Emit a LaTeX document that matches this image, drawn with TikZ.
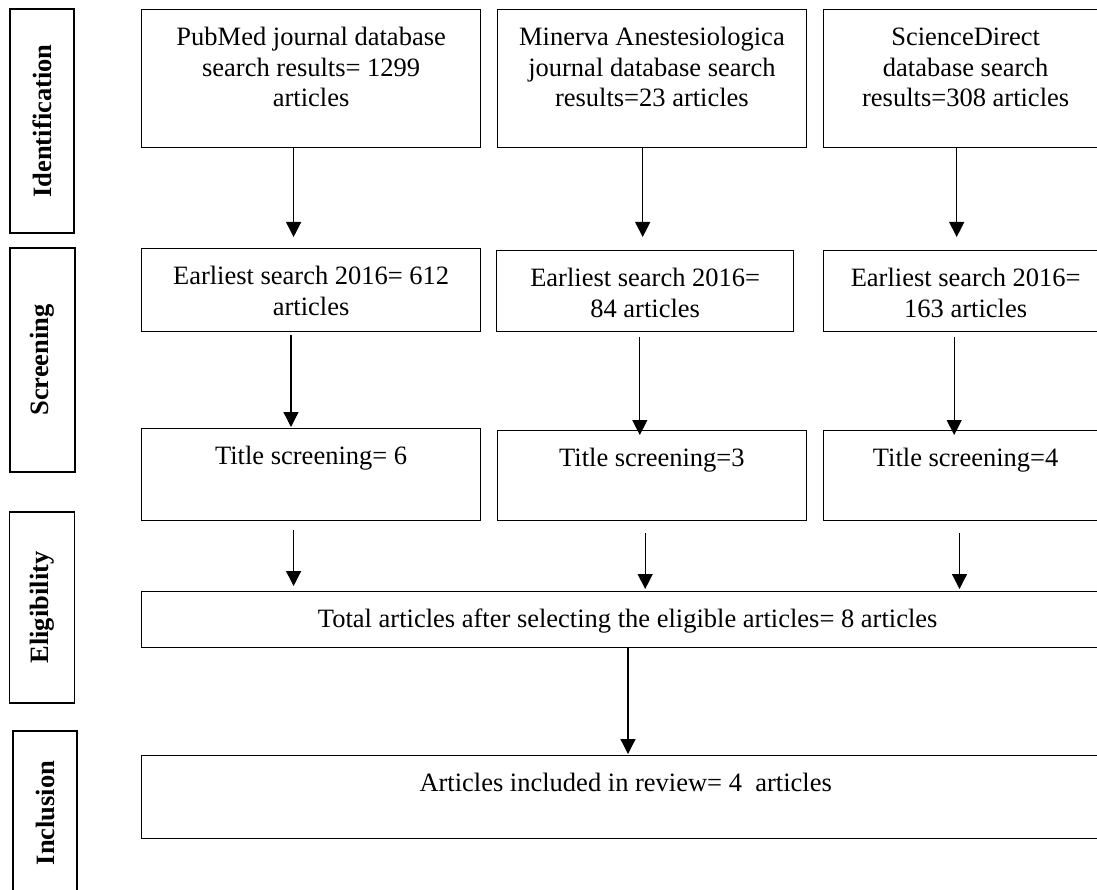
\documentclass[tikz,border=0pt]{standalone}
\usepackage{fontspec}
\setmainfont{Liberation Serif}
\usetikzlibrary{arrows.meta}

% text box: width, height, lines (top aligned)
\newcommand{\toptxt}[3]{\parbox[c][#2][t]{#1}{\centering\rule{0pt}{36pt}#3}}

\tikzset{
  box/.style={draw, line width=1.3pt, inner sep=0pt, anchor=north west,
    font=\fontsize{26.5}{30.5}\selectfont},
  phase/.style={draw, line width=1.5pt, inner sep=0pt, rotate=90,
    font=\fontsize{26.5}{30}\selectfont\bfseries},
  arr/.style={line width=1.3pt, -{Triangle[width=15pt,length=15pt]}},
}

\begin{document}
\begin{tikzpicture}[x=1pt, y=-1pt]
  \useasboundingbox (0,0) rectangle (1097,890);

  % phases
  \node[phase, minimum width=224, minimum height=64] (idlab) at (41.8,121) {Identification};
  \node[phase, minimum width=224, minimum height=65] (scrlab) at (42.3,360) {Screening};
  \node[phase, minimum width=191, minimum height=65] (elilab) at (42,607.5) {Eligibility};
  \node[phase, minimum width=164, minimum height=64] (inclab) at (45,813) {Inclusion};

  % search results
  \node[box] (pubmed) at (141,9) {\toptxt{339pt}{138pt}{PubMed journal database\\search results= 1299\\articles}};
  \node[box] (minerva) at (497,9) {\toptxt{308.5pt}{138pt}{Minerva Anestesiologica\\journal database search\\results=23 articles}};
  \node[box] (scidir) at (823,9) {\toptxt{284pt}{138pt}{ScienceDirect\\database search\\results=308 articles}};

  % earliest search
  \node[box] (early1) at (141,248) {\toptxt{339pt}{83pt}{Earliest search 2016= 612\\articles}};
  \node[box] (early2) at (496,250) {\toptxt{297pt}{81pt}{Earliest search 2016=\\84 articles}};
  \node[box] (early3) at (823,250) {\toptxt{284pt}{81pt}{Earliest search 2016=\\163 articles}};

  % title screening
  \node[box] (title1) at (141,428) {\toptxt{339pt}{92pt}{Title screening= 6}};
  \node[box] (title2) at (497,430) {\toptxt{308.5pt}{90pt}{Title screening=3}};
  \node[box] (title3) at (823,430) {\toptxt{284pt}{90pt}{Title screening=4}};

  % eligible and included
  \node[box] (total) at (141,591) {\toptxt{972pt}{56pt}{Total articles after selecting the eligible articles= 8 articles}};
  \node[box] (incl) at (141,755) {\toptxt{968pt}{83pt}{Articles included in review= 4~~articles}};

  % arrows
  \foreach \a/\b/\dx/\s/\e in {pubmed/early1/152.6/0/11, minerva/early2/145.7/0/13, scidir/early3/133.7/0/13,
      early1/title1/150/3/1, early2/title2/143.8/5/-5, early3/title3/131.2/5/-5,
      title1/total/152.6/9/5, title2/total/148.2/12/2, title3/total/136.5/12/2} {
    \draw[arr, shorten <=\s, shorten >=\e] ([xshift=\dx]\a.south west) -- ([xshift=\dx]\a.south west |- \b.north);
  }
  \draw[arr, shorten >=1] ([xshift=487]total.south west) -- ([xshift=487]total.south west |- incl.north);
\end{tikzpicture}
\end{document}
